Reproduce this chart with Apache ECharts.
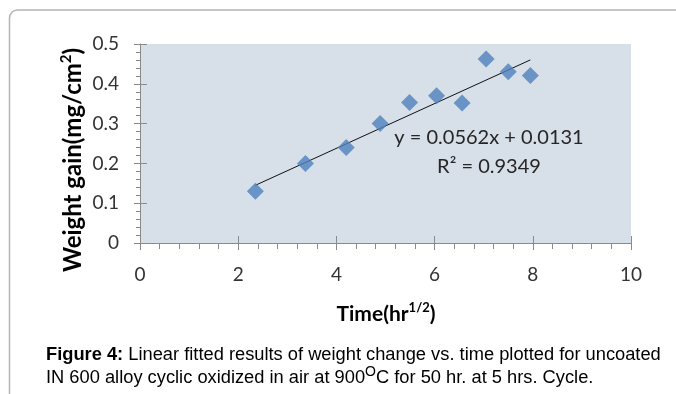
<!DOCTYPE html>
<html>
<head>
<meta charset="utf-8">
<script src="https://cdn.jsdelivr.net/npm/echarts@6/dist/echarts.min.js"></script>
<style>
html,body{margin:0;padding:0;background:#fff;}
#c{width:676px;height:394px;}
</style>
</head>
<body>
<div id="c"></div>
<script>
// Data
var timeValues = [2.35, 3.37, 4.2, 4.89, 5.49, 6.04, 6.56, 7.05, 7.5, 7.95];
var weightGain = [0.13, 0.20, 0.24, 0.30, 0.353, 0.37, 0.352, 0.462, 0.43, 0.421];
var trendX = [2.35, 7.95];
var trendY = [0.145, 0.46];
var xTicks = [0, 2, 4, 6, 8, 10];
var yTicks = [0, 0.1, 0.2, 0.3, 0.4, 0.5];
var equationText = 'y = 0.0562x + 0.0131';
var r2Text = 'R² = 0.9349';

var chart = echarts.init(document.getElementById('c'), null, {renderer: 'canvas'});
var scatterData = timeValues.map(function (t, i) { return [t, weightGain[i]]; });
var trendData = trendX.map(function (t, i) { return [t, trendY[i]]; });

var tickFont = 'Lato';
var axisColor = '#8a8a8a';

var option = {
  animation: false,
  backgroundColor: '#fff',
  grid: {
    left: 140, right: 45, top: 44, bottom: 151,
    show: true, backgroundColor: '#d7dfe8', borderWidth: 0
  },
  xAxis: [{
    type: 'value', min: 0, max: 10, interval: 2, position: 'bottom',
    axisLine: {show: true, onZero: false, lineStyle: {color: axisColor, width: 1}},
    axisTick: {show: true, inside: false, length: 7, lineStyle: {color: axisColor}},
    minorTick: {show: true, splitNumber: 5, length: 6, lineStyle: {color: axisColor}},
    splitLine: {show: false},
    axisLabel: {show: true, margin: 22, fontFamily: tickFont, fontSize: 19, color: '#333',
      formatter: function (v) { return xTicks.indexOf(v) >= 0 ? String(v) : ''; }}
  }, {
    type: 'value', min: 0, max: 10, interval: 2, position: 'bottom',
    axisLine: {show: false, onZero: false},
    axisTick: {show: true, inside: true, length: 7, lineStyle: {color: axisColor}},
    splitLine: {show: false},
    axisLabel: {show: false}
  }],
  yAxis: [{
    type: 'value', min: 0, max: 0.5, interval: 0.1, position: 'left',
    axisLine: {show: true, onZero: false, lineStyle: {color: axisColor, width: 1}},
    axisTick: {show: true, inside: false, length: 6, lineStyle: {color: axisColor}},
    minorTick: {show: true, splitNumber: 5, length: 4, lineStyle: {color: axisColor}},
    splitLine: {show: false},
    axisLabel: {show: true, margin: 21, fontFamily: tickFont, fontSize: 19, color: '#333',
      formatter: function (v) { return v === 0 ? '0' : v.toFixed(1); }}
  }, {
    type: 'value', min: 0, max: 0.5, interval: 0.1, position: 'left',
    axisLine: {show: false, onZero: false},
    axisTick: {show: true, inside: true, length: 7, lineStyle: {color: axisColor}},
    splitLine: {show: false},
    axisLabel: {show: false}
  }],
  series: [{
    type: 'line',
    data: trendData,
    xAxisIndex: 0, yAxisIndex: 0,
    showSymbol: false, symbol: 'none',
    lineStyle: {color: '#111', width: 1},
    silent: true, z: 2
  }, {
    type: 'scatter',
    data: scatterData,
    xAxisIndex: 0, yAxisIndex: 0,
    symbol: 'diamond', symbolSize: 17,
    itemStyle: {color: '#4f81bd'},
    z: 3
  }],
  graphic: [
    {type: 'rect', shape: {x: 9.5, y: 10, width: 720, height: 500, r: 8}, style: {fill: 'none', stroke: '#b4b4b4', lineWidth: 1.5}, silent: true, z: 0},
    {type: 'text', x: 489, y: 138, style: {text: equationText, fontFamily: tickFont, fontSize: 20, fill: '#262626', align: 'center', verticalAlign: 'middle'}, z: 10},
    {type: 'text', x: 489, y: 167, style: {text: r2Text, fontFamily: tickFont, fontSize: 20, fill: '#262626', align: 'center', verticalAlign: 'middle'}, z: 10},
    {type: 'text', x: 72, y: 160, rotation: Math.PI / 2,
      style: {text: '{b|Weight gain(mg/cm}{s|2}{b|)}', align: 'center', verticalAlign: 'middle',
        rich: {
          b: {fontFamily: tickFont, fontWeight: 'bold', fontSize: 24, color: '#262626', verticalAlign: 'bottom', lineHeight: 27},
          s: {fontFamily: tickFont, fontWeight: 'bold', fontSize: 15, color: '#262626', verticalAlign: 'top', lineHeight: 27}
        }}, z: 10},
    {type: 'text', x: 386, y: 313,
      style: {text: '{b|Time(hr}{s|1/2}{b|)}', align: 'center', verticalAlign: 'middle',
        rich: {
          b: {fontFamily: tickFont, fontWeight: 'bold', fontSize: 21, color: '#262626', verticalAlign: 'bottom', lineHeight: 24},
          s: {fontFamily: tickFont, fontWeight: 'bold', fontSize: 13, color: '#262626', verticalAlign: 'top', lineHeight: 24}
        }}, z: 10},
    {type: 'text', x: 46, y: 355,
      style: {text: '{b|Figure 4:}{n| Linear fitted results of weight change vs. time plotted for uncoated}', align: 'left', verticalAlign: 'middle',
        rich: {
          b: {fontFamily: 'Liberation Sans', fontWeight: 'bold', fontSize: 18.3, color: '#111'},
          n: {fontFamily: 'Liberation Sans', fontSize: 18.3, color: '#111'}
        }}, z: 10},
    {type: 'text', x: 46, y: 376,
      style: {text: '{n|IN 600 alloy cyclic oxidized in air at 900}{s|O}{n|C for 50 hr. at 5 hrs. Cycle.}', align: 'left', verticalAlign: 'middle',
        rich: {
          n: {fontFamily: 'Liberation Sans', fontSize: 18.3, color: '#111', verticalAlign: 'bottom', lineHeight: 22},
          s: {fontFamily: 'Liberation Sans', fontSize: 14, color: '#111', verticalAlign: 'top', lineHeight: 22}
        }}, z: 10}
  ]
};
chart.setOption(option);
</script>
</body>
</html>
